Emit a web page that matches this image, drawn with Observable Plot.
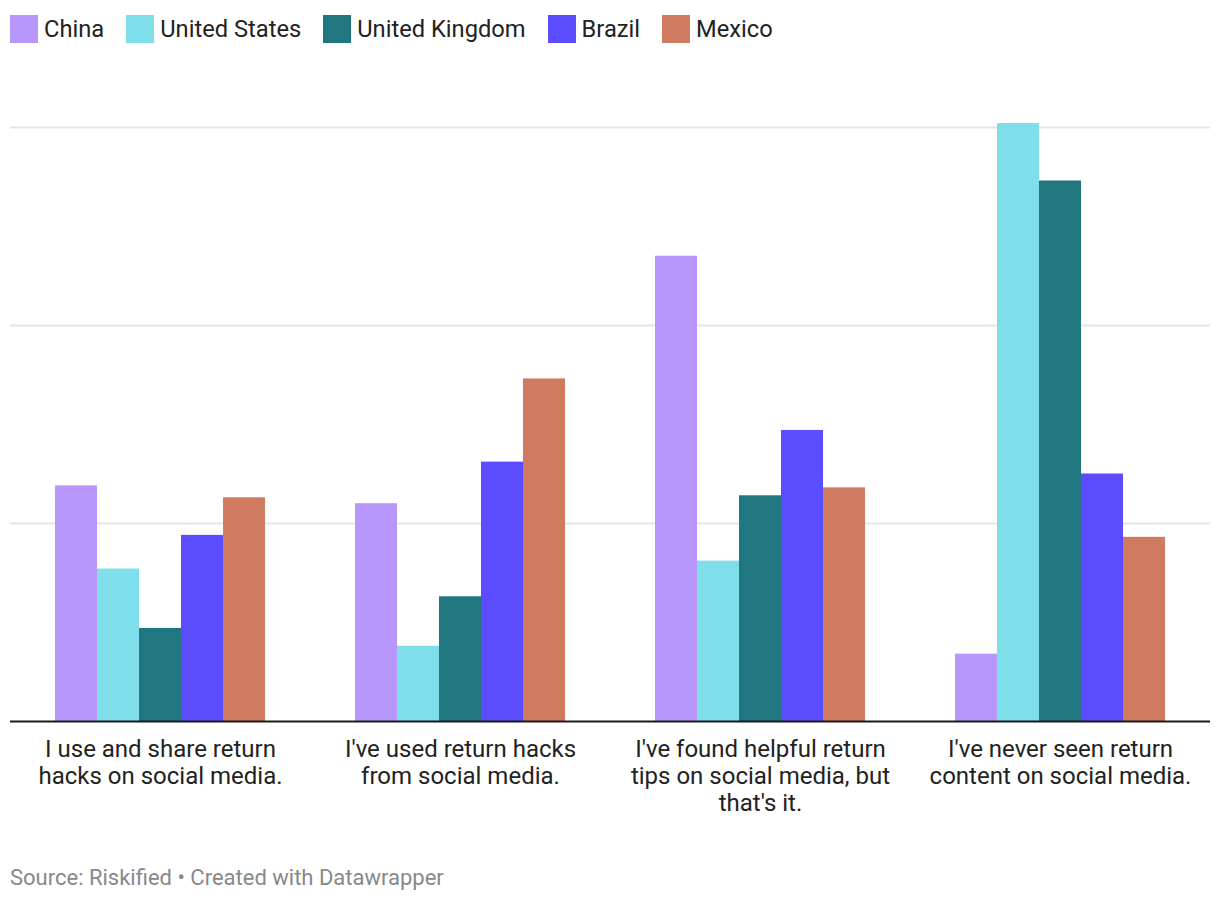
<!DOCTYPE html>
<html>
<head>
<meta charset="utf-8">
<script src="https://cdn.jsdelivr.net/npm/d3@7"></script>
<script src="https://cdn.jsdelivr.net/npm/@observablehq/plot@0.6"></script>
<style>
  html, body { margin: 0; padding: 0; background: #fff; }
  body { width: 1220px; font-family: Roboto, "Noto Sans", sans-serif; color: #222; }
  #legend { display: flex; align-items: center; height: 57px; padding-left: 10px; box-sizing: border-box; }
  .item { display: flex; align-items: center; margin-right: 22px; font-size: 23.7px; }
  .sw { width: 28px; height: 28px; margin-right: 6px; }
  #footer { font-size: 22px; color: #888; padding-left: 10px; margin-top: 43px; }
</style>
</head>
<body>
<div id="legend"></div>
<div id="chart"></div>
<div id="footer">Source: Riskified • Created with Datawrapper</div>
<script>
const categories = [
  "I use and share return hacks on social media.",
  "I've used return hacks from social media.",
  "I've found helpful return tips on social media, but that's it.",
  "I've never seen return content on social media."
];
const tickLabels = [
  "I use and share return\nhacks on social media.",
  "I've used return hacks\nfrom social media.",
  "I've found helpful return\ntips on social media, but\nthat's it.",
  "I've never seen return\ncontent on social media."
];
const series = ["China", "United States", "United Kingdom", "Brazil", "Mexico"];
const colors = ["#b897fd", "#7edfeb", "#217780", "#5b4cff", "#d07a5f"];
const china = [11.9, 11.0, 23.5, 3.4];
const unitedStates = [7.7, 3.8, 8.1, 30.2];
const unitedKingdom = [4.7, 6.3, 11.4, 27.3];
const brazil = [9.4, 13.1, 14.7, 12.5];
const mexico = [11.3, 17.3, 11.8, 9.3];
const gridValues = [10, 20, 30];

const seriesValues = [china, unitedStates, unitedKingdom, brazil, mexico];
const data = [];
series.forEach((s, i) => categories.forEach((c, j) => data.push({category: c, series: s, value: seriesValues[i][j]})));

const legend = document.getElementById("legend");
series.forEach((s, i) => {
  const it = document.createElement("div");
  it.className = "item";
  it.innerHTML = `<div class="sw" style="background:${colors[i]}"></div><span>${s}</span>`;
  legend.appendChild(it);
});

const chart = Plot.plot({
  width: 1220,
  height: 765,
  marginLeft: 10,
  marginRight: 10,
  marginTop: 0,
  marginBottom: 100,
  style: {fontFamily: "Roboto, 'Noto Sans', sans-serif", color: "#222", background: "#fff"},
  fx: {domain: categories, padding: 0, label: null},
  x: {domain: series, paddingInner: 0, paddingOuter: 1.0714, axis: null},
  y: {domain: [0, 30], range: [664, 70], axis: null},
  color: {domain: series, range: colors},
  marks: [
    Plot.ruleY(gridValues, {stroke: "#e5e5e5", strokeWidth: 2}),
    Plot.barY(data, {fx: "category", x: "series", y: "value", fill: "series"}),
    Plot.ruleY([0], {stroke: "#1a1a1a", strokeWidth: 2}),
    Plot.axisFx({
      anchor: "bottom",
      tickSize: 0,
      tickPadding: 15,
      fontSize: 24,
      lineHeight: 1.125,
      label: null,
      fill: "#222",
      tickFormat: d => tickLabels[categories.indexOf(d)]
    })
  ]
});
document.getElementById("chart").appendChild(chart);
</script>
</body>
</html>
